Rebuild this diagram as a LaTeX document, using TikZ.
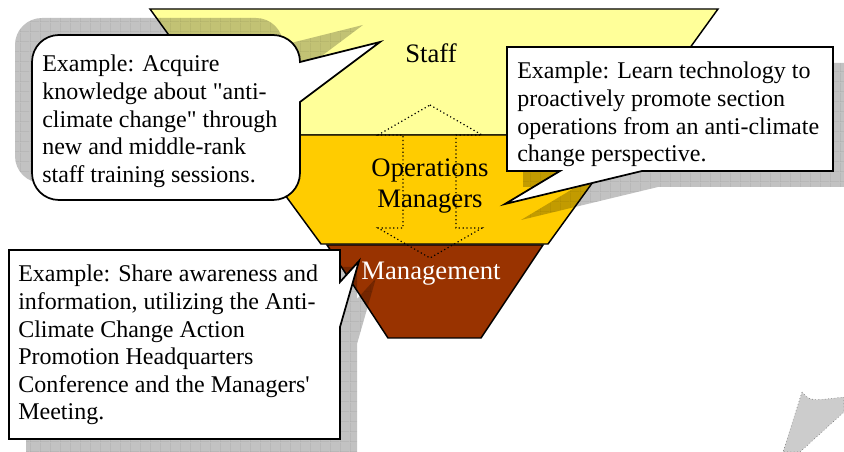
\documentclass[tikz,border=0pt]{standalone}
\usepackage{fontspec}
\setmainfont{Liberation Serif}
\usetikzlibrary{patterns.meta}
\definecolor{staffyellow}{HTML}{FFFF99}
\definecolor{opsorange}{HTML}{FFCC00}
\definecolor{mgmtbrown}{HTML}{993300}
\definecolor{tailgray}{HTML}{CCCCCC}
\tikzdeclarepattern{
  name=gridlines, type=uncolored,
  bounding box={(0pt,0pt) and (7.5pt,7.5pt)},
  tile size={(7.5pt,7.5pt)},
  code={
    \pgfsetlinewidth{0.45pt}
    \pgfpathmoveto{\pgfpointorigin}\pgfpathlineto{\pgfpoint{7.5pt}{0pt}}
    \pgfpathmoveto{\pgfpointorigin}\pgfpathlineto{\pgfpoint{0pt}{7.5pt}}
    \pgfusepath{stroke}
  }
}
\tikzset{
  bandline/.style={draw=black, line width=1.1pt},
  bubble/.style={fill=white, draw=black, line width=1.3pt},
  bubbleshadow/.style={fill=black, fill opacity=0.24},
  shadowgrid/.style={pattern=gridlines, pattern color=black, fill opacity=0.14},
  exampletext/.style={anchor=north west, inner sep=0pt, align=left, font=\fontsize{18pt}{20.7pt}\selectfont},
  leveltext/.style={inner sep=0pt, align=center, font=\fontsize{20pt}{23.3pt}\selectfont}
}
% outlines of the three speech bubbles
\newcommand{\acquirebubble}{(59,35) -- (273,35) .. controls (288,35) and (300,47) .. (300,62) -- (380,42) -- (300,102) -- (300,173) .. controls (300,188) and (288,200) .. (273,200) -- (59,200) .. controls (44,200) and (32,188) .. (32,173) -- (32,62) .. controls (32,47) and (44,35) .. (59,35) -- cycle}
\newcommand{\learnbubble}{(507,47) -- (833,47) -- (833,171) -- (642,171) -- (505,204) -- (560,171) -- (507,171) -- cycle}
\newcommand{\sharebubble}{(9,250) -- (340,250) -- (340,282) -- (359,261) -- (340,327) -- (340,439) -- (9,439) -- cycle}
\begin{document}
\begin{tikzpicture}[x=0.75pt, y=-0.75pt]
	\useasboundingbox (0,0) rectangle (844,452);
	\clip (0,0) rectangle (844,452);

	\draw[bandline, fill=staffyellow] (150,9) -- (718,9) -- (627,135) -- (241,135) -- cycle;%Staff band
	\draw[bandline, fill=opsorange] (241,135) -- (627,135) -- (548,244) -- (321,244) -- cycle;%Operations band
	\draw[bandline, fill=mgmtbrown] (327,245) -- (543,245) -- (481,338) -- (388,338) -- cycle;%Management band

	\draw[dotted, line width=0.9pt] (430,105) -- (482,135) -- (456,135) -- (456,228) -- (482,228) -- (430,258) -- (378,228) -- (403,228) -- (403,135) -- (378,135) -- cycle;%double arrow

	\node[leveltext, anchor=base] (staff) at (431,63) {Staff};
	\node[leveltext, anchor=north] (ops) at (430,159) {Operations\\Managers};
	\node[leveltext, anchor=base, text=white] (mgmt) at (431,280) {Management};

	\path[bubbleshadow, shift={(-17,-17)}] \acquirebubble;%shadows
	\path[shadowgrid, shift={(-17,-17)}] \acquirebubble;
	\path[bubbleshadow, shift={(16,16)}] \learnbubble;
	\path[shadowgrid, shift={(16,16)}] \learnbubble;
	\path[bubbleshadow, shift={(17,17)}] \sharebubble;
	\path[shadowgrid, shift={(17,17)}] \sharebubble;

	\draw[bubble] \acquirebubble;%left bubble
	\draw[bubble] \learnbubble;%right bubble
	\draw[bubble] \sharebubble;%lower bubble

	\node[exampletext] (acquire) at (42,55) {Example: Acquire\\knowledge about \textquotedbl anti-\\climate change\textquotedbl{} through\\new and middle-rank\\staff training sessions.};
	\node[exampletext] (learn) at (517,62) {Example: Learn technology to\\proactively promote section\\operations from an anti-climate\\change perspective.};
	\node[exampletext] (share) at (18,265) {Example: Share awareness and\\information, utilizing the Anti-\\Climate Change Action\\Promotion Headquarters\\Conference and the Managers\textquotesingle\\Meeting.};

	\draw[tailgray!40!black, dotted, fill=tailgray] (802,392) .. controls (810,401) .. (844,397) -- (844,412) -- (800,452) -- (783,452) -- cycle;%cut-off tail
\end{tikzpicture}
\end{document}
